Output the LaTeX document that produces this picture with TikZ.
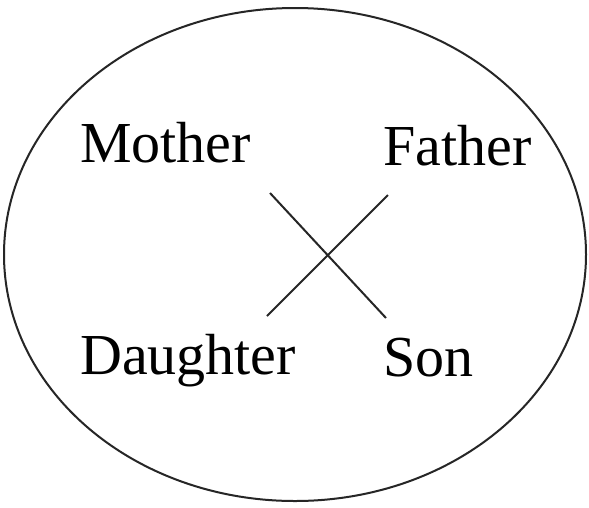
\documentclass[tikz,border=0pt]{standalone}
\usepackage{fontspec}
\setmainfont{Liberation Serif}
\usetikzlibrary{shapes.geometric}
\begin{document}
\begin{tikzpicture}[x=1pt,y=-1pt,
  lbl/.style={anchor=base west,inner sep=0pt,font=\fontsize{58}{60}\selectfont},
  ln/.style={line width=2pt,color=black!85}]
\useasboundingbox (0,0) rectangle (589,507);
\fill[white] (0,0) rectangle (589,507);
\node[ln,draw,ellipse,minimum width=582pt,minimum height=493pt,inner sep=0pt] (circ) at (295,254.5) {};
\node[lbl] (mother) at (80,162) {Mother};
\node[lbl] (father) at (383,165) {Father};
\node[lbl] (daughter) at (80,374) {Daughter};
\node[lbl] (son) at (383,376) {Son};
\coordinate (a1) at (270,193);
\coordinate (a2) at (386,318);
\coordinate (b1) at (388,195);
\coordinate (b2) at (267,316);
\draw[ln] (a1) -- (a2);
\draw[ln] (b1) -- (b2);
\end{tikzpicture}
\end{document}
